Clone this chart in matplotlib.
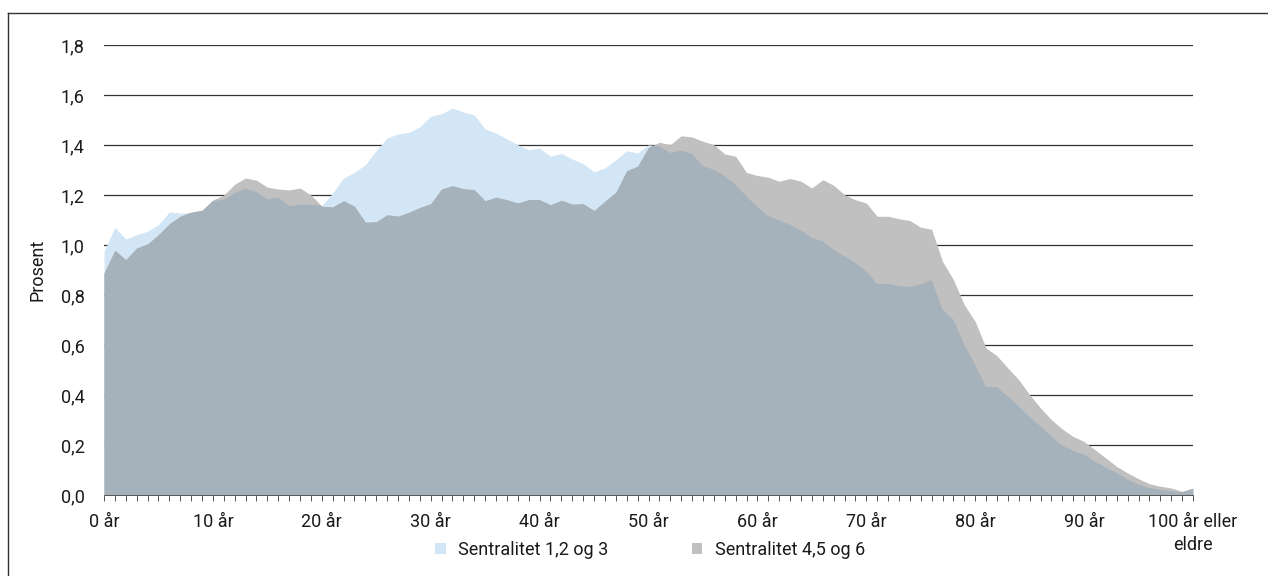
import numpy as np
import matplotlib
matplotlib.use("Agg")
import matplotlib.pyplot as plt
from matplotlib.patches import Patch
from matplotlib.lines import Line2D
from matplotlib.ticker import MultipleLocator

plt.rcParams['font.family'] = ['Roboto', 'DejaVu Sans']
plt.rcParams['font.size'] = 13

# ── data: share of population (%) by age, 0..100 ─────────
ages = np.arange(0, 101)

sentral_123 = [
    0.975, 1.070, 1.024, 1.041, 1.055, 1.081, 1.132, 1.128, 1.128, 1.137,
    1.175, 1.181, 1.208, 1.225, 1.212, 1.181, 1.191, 1.155, 1.161, 1.160,
    1.157, 1.208, 1.268, 1.291, 1.321, 1.378, 1.428, 1.444, 1.451, 1.472,
    1.515, 1.525, 1.548, 1.532, 1.520, 1.464, 1.448, 1.424, 1.401, 1.381,
    1.388, 1.355, 1.366, 1.344, 1.325, 1.293, 1.308, 1.341, 1.377, 1.368,
    1.401, 1.395, 1.368, 1.378, 1.364, 1.315, 1.301, 1.275, 1.241, 1.194,
    1.152, 1.115, 1.098, 1.081, 1.059, 1.028, 1.015, 0.981, 0.955, 0.928,
    0.895, 0.844, 0.845, 0.835, 0.832, 0.842, 0.859, 0.741, 0.701, 0.601,
    0.521, 0.432, 0.431, 0.395, 0.355, 0.312, 0.275, 0.234, 0.197, 0.177,
    0.161, 0.134, 0.110, 0.088, 0.061, 0.041, 0.028, 0.021, 0.015, 0.010,
    0.024,
]

sentral_456 = [
    0.888, 0.979, 0.941, 0.988, 1.004, 1.041, 1.085, 1.115, 1.132, 1.139,
    1.180, 1.200, 1.243, 1.268, 1.259, 1.231, 1.224, 1.220, 1.228, 1.200,
    1.155, 1.152, 1.177, 1.155, 1.091, 1.093, 1.121, 1.115, 1.131, 1.150,
    1.165, 1.224, 1.237, 1.225, 1.221, 1.177, 1.191, 1.181, 1.168, 1.181,
    1.181, 1.161, 1.179, 1.163, 1.165, 1.138, 1.175, 1.211, 1.297, 1.315,
    1.390, 1.411, 1.401, 1.437, 1.432, 1.415, 1.401, 1.364, 1.355, 1.290,
    1.278, 1.271, 1.255, 1.266, 1.255, 1.228, 1.261, 1.239, 1.201, 1.181,
    1.168, 1.115, 1.115, 1.105, 1.098, 1.071, 1.063, 0.934, 0.861, 0.761,
    0.694, 0.588, 0.557, 0.508, 0.461, 0.401, 0.348, 0.301, 0.264, 0.234,
    0.214, 0.181, 0.148, 0.114, 0.088, 0.065, 0.045, 0.035, 0.028, 0.015,
    0.028,
]

series_names = ["Sentralitet 1,2 og 3", "Sentralitet 4,5 og 6"]
yticks = [0.0, 0.2, 0.4, 0.6, 0.8, 1.0, 1.2, 1.4, 1.6, 1.8]
xticks = [0, 10, 20, 30, 40, 50, 60, 70, 80, 90, 100]
xlabels = ["0 år", "10 år", "20 år", "30 år", "40 år", "50 år", "60 år",
           "70 år", "80 år", "90 år", "100 år eller\neldre"]

c_blue = "#d2e6f6"
c_gray = "#c0c0c0"
c_both = "#a5b1bb"

# ── figure ───────────────────────────────────────────────
fig = plt.figure(figsize=(12.68, 5.76), dpi=100)
ax = fig.add_axes([104 / 1268, 81 / 576, 1089 / 1268, 450 / 576])

blue_fill = ax.fill_between(ages, sentral_123, color=c_blue, lw=0, zorder=2)
ax.fill_between(ages, sentral_456, color=c_gray, lw=0, zorder=2)
# where both areas overlap the colours multiply -> darker blue-gray
both = ax.fill_between(ages, sentral_456, color=c_both, lw=0, zorder=3)
both.set_clip_path(blue_fill.get_paths()[0], ax.transData)

ax.set_xlim(0, 100)
ax.set_ylim(0, 1.8)

for v in yticks[1:]:
    ax.axhline(v, color="#333333", lw=0.9, zorder=1)

ax.set_yticks(yticks)
ax.set_yticklabels([f"{v:.1f}".replace(".", ",") for v in yticks], color="#1a1a1a")
ax.set_xticks(xticks)
ax.set_xticklabels(xlabels, color="#1a1a1a", linespacing=1.35)
ax.xaxis.set_minor_locator(MultipleLocator(1))

ax.tick_params(axis="y", length=0, pad=14)
ax.tick_params(axis="x", which="both", length=4, width=0.7, color="#555555",
               direction="out", pad=9)

for s in ["top", "right", "left"]:
    ax.spines[s].set_visible(False)
ax.spines["bottom"].set_color("#555555")
ax.spines["bottom"].set_linewidth(0.7)
ax.spines["bottom"].set_zorder(4)

fig.text(37 / 1268, 1 - 270 / 576, "Prosent", rotation=90,
         ha="center", va="center", color="#1a1a1a")

handles = [Patch(facecolor=c_blue, edgecolor="none"),
           Patch(facecolor=c_gray, edgecolor="none")]
fig.legend(handles, series_names, loc="center", bbox_to_anchor=(650 / 1268, 1 - 550 / 576),
           ncol=2, frameon=False, handlelength=0.6, handleheight=0.6,
           handletextpad=0.7, columnspacing=4.6, labelcolor="#1a1a1a")

# outer frame (top and left edges visible)
fig.add_artist(Line2D([8 / 1268, 1.0], [1 - 13 / 576, 1 - 13 / 576],
                      transform=fig.transFigure, color="#333333", lw=1))
fig.add_artist(Line2D([8 / 1268, 8 / 1268], [0.0, 1 - 13 / 576],
                      transform=fig.transFigure, color="#333333", lw=1))

fig.savefig("out.png", dpi=100, facecolor="white")
